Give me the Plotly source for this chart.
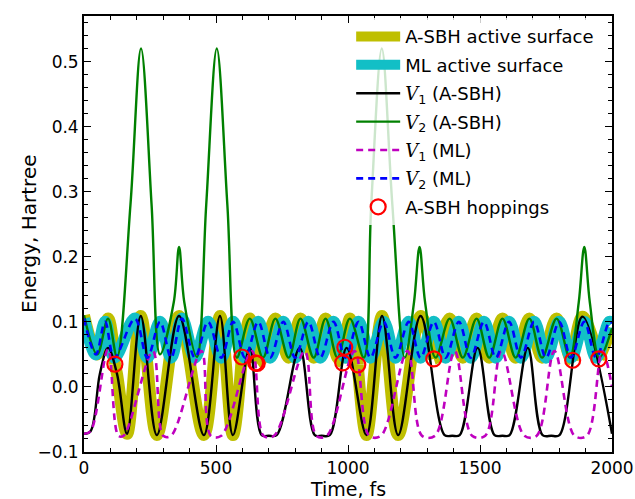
import plotly.graph_objects as go

# ---------------- data ----------------
# V1 (A-SBH), black solid
v1_t = [0, 25, 60, 91, 125, 163, 215, 276, 360, 454, 515, 564, 628, 673, 700, 730, 817, 874, 900, 931,
        995, 1070, 1129, 1190, 1275, 1366, 1395, 1423, 1491, 1555, 1585, 1612, 1681, 1737, 1770, 1801, 1888, 2000]
v1_e = [-0.072, -0.068, 0.02, 0.06, 0.02, -0.072, 0.109, -0.074, 0.109, -0.074, 0.109, -0.074, 0.06, -0.074, -0.075, -0.074,
        0.06, -0.074, -0.075, -0.074, 0.06, -0.074, 0.109, -0.074, 0.109, -0.074, -0.075, -0.074, 0.06, -0.074, -0.075, -0.074,
        0.06, -0.074, -0.075, -0.074, 0.108, -0.072]

# V2 (A-SBH), green solid
v2_t = [0, 50, 91, 125, 176, 216, 256, 288, 340, 360, 380, 428, 463, 503, 543, 579, 628, 678, 725, 775, 820, 870, 915, 960,
        1007, 1060, 1088, 1128, 1168, 1215, 1250, 1271, 1292, 1332, 1385, 1435, 1487, 1535, 1585, 1635, 1687, 1735, 1790,
        1840, 1874, 1895, 1916, 1952, 2000]
v2_e = [0.11, 0.05, 0.105, 0.046, 0.28, 0.52, 0.28, 0.05, 0.13, 0.215, 0.13, 0.046, 0.28, 0.52, 0.28, 0.045, 0.105,
        0.045, 0.105, 0.045, 0.105, 0.045, 0.105, 0.045, 0.105, 0.045, 0.28, 0.52, 0.28, 0.045, 0.13, 0.215, 0.13, 0.045,
        0.105, 0.045, 0.105, 0.045, 0.105, 0.045, 0.105, 0.045, 0.105, 0.045, 0.13, 0.215, 0.13, 0.045, 0.09]

# V1 (ML), magenta dashed
m1_t = [0, 25, 91, 130, 150, 261, 300, 330, 445, 480, 520, 636, 680, 720, 836, 880, 920, 1025, 1080, 1125,
        1225, 1280, 1330, 1404, 1470, 1520, 1581, 1668, 1715, 1782, 1858, 1905, 1963, 2000]
m1_e = [-0.072, -0.068, 0.058, -0.075, -0.075, 0.055, -0.075, -0.075, 0.055, -0.075, -0.075, 0.055, -0.075, -0.075,
        0.055, -0.075, -0.075, 0.055, -0.075, -0.075, 0.055, -0.075, -0.075, 0.055, -0.075, -0.075, 0.055, -0.075,
        -0.075, 0.055, -0.075, -0.075, 0.055, 0.0]

# V2 (ML), blue dashed
m2_t = [0, 45, 80, 115, 193, 240, 288, 330, 371, 420, 470, 520, 565, 610, 660, 705, 755, 800, 850, 895, 945, 990,
        1040, 1085, 1135, 1180, 1230, 1275, 1325, 1370, 1420, 1465, 1515, 1560, 1610, 1655, 1705, 1750, 1800, 1845,
        1895, 1940, 1990, 2000]
m2_e = [0.105, 0.05, 0.1, 0.045, 0.105, 0.045, 0.1, 0.045, 0.105, 0.045, 0.1, 0.045, 0.1, 0.045, 0.1, 0.045, 0.1,
        0.045, 0.1, 0.045, 0.1, 0.045, 0.1, 0.045, 0.1, 0.045, 0.1, 0.045, 0.1, 0.045, 0.1, 0.045, 0.1, 0.045, 0.1,
        0.045, 0.1, 0.045, 0.1, 0.045, 0.1, 0.045, 0.1, 0.098]

# A-SBH hoppings (red circles)
hop_t = [117, 598, 650, 656, 980, 988, 1037, 1325, 1851, 1950]
hop_e = [0.035, 0.046, 0.037, 0.036, 0.037, 0.061, 0.034, 0.043, 0.041, 0.043]
# active A-SBH surface after each hop (1 = V1, 2 = V2); initial surface
start_state = 2
hop_state = [1, 2, 1, 2, 1, 2, 1, 2, 1, 2]

T_MAX = 2000

# ---------------- build figure ----------------
fig = go.Figure()

YEL = "#bfbf00"
CYA = "#12bfc6"
VSYM = "<span style=\"font-family:'DejaVu Serif'\"><i>V</i></span>"

# active A-SBH surface as segments between hops
bounds_t = [0] + hop_t + [T_MAX]
states = [start_state] + hop_state
first = True
for i, st in enumerate(states):
    t0, t1 = bounds_t[i], bounds_t[i + 1]
    if t1 - t0 < 1:
        continue
    src_t, src_e = (v1_t, v1_e) if st == 1 else (v2_t, v2_e)
    xs, ys = [], []
    if i > 0:
        xs.append(hop_t[i - 1]); ys.append(hop_e[i - 1])
    for tt, ee in zip(src_t, src_e):
        if t0 < tt < t1 or (i == 0 and tt == 0) or (i == len(states) - 1 and tt == T_MAX):
            xs.append(tt); ys.append(ee)
    if i < len(hop_t):
        xs.append(hop_t[i]); ys.append(hop_e[i])
    fig.add_trace(go.Scatter(x=xs, y=ys, mode="lines", line=dict(color=YEL, width=12, shape="spline", smoothing=1.0),
                             name="A-SBH active surface", legendgroup="a", showlegend=first, hoverinfo="skip"))
    first = False

fig.add_trace(go.Scatter(x=m2_t, y=m2_e, mode="lines", line=dict(color=CYA, width=12, shape="spline", smoothing=1.0),
                         name="ML active surface", legendgroup="b"))
fig.add_trace(go.Scatter(x=v1_t, y=v1_e, mode="lines", line=dict(color="black", width=2.4, shape="spline", smoothing=1.0),
                         name=VSYM + "<sub>1</sub> (A-SBH)", legendgroup="c"))
fig.add_trace(go.Scatter(x=v2_t, y=v2_e, mode="lines", line=dict(color="#008000", width=2.4, shape="spline", smoothing=1.0),
                         name=VSYM + "<sub>2</sub> (A-SBH)", legendgroup="d"))
fig.add_trace(go.Scatter(x=m1_t, y=m1_e, mode="lines",
                         line=dict(color="#bf00bf", width=2.6, dash="7px,5px", shape="spline", smoothing=1.0),
                         name=VSYM + "<sub>1</sub> (ML)", legendgroup="e"))
fig.add_trace(go.Scatter(x=m2_t, y=m2_e, mode="lines",
                         line=dict(color="#0000ff", width=2.6, dash="7px,5px", shape="spline", smoothing=1.0),
                         name=VSYM + "<sub>2</sub> (ML)", legendgroup="f"))
fig.add_trace(go.Scatter(x=hop_t, y=hop_e, mode="markers",
                         marker=dict(symbol="circle-open", size=15, color="#ff0000", line=dict(width=2.2, color="#ff0000")),
                         name="A-SBH hoppings", legendgroup="g"))

axis_common = dict(showline=True, linecolor="black", linewidth=1.8, mirror="allticks", ticks="inside",
                   ticklen=7, tickwidth=1.2, tickcolor="black", showgrid=False, zeroline=False, automargin=False,
                   tickfont=dict(family="DejaVu Sans", size=17, color="black"))

fig.update_xaxes(range=[0, 2000], dtick=500, tick0=0,
                 minor=dict(ticks="inside", dtick=100, ticklen=4, tickcolor="black", tickwidth=1),
                 **axis_common)
fig.update_yaxes(range=[-0.1, 0.57], dtick=0.1, tick0=0, tickformat=".1f",
                 minor=dict(ticks="inside", dtick=0.02, ticklen=4, tickcolor="black", tickwidth=1),
                 **axis_common)

fig.update_layout(
    width=635, height=499,
    margin=dict(l=84, r=23, t=16, b=47),
    paper_bgcolor="white", plot_bgcolor="white",
    font=dict(family="DejaVu Sans", size=17, color="black"),
    showlegend=True,
    legend=dict(x=0.506, y=0.995, xanchor="left", yanchor="top", bgcolor="rgba(255,255,255,0.8)",
                font=dict(family="DejaVu Sans", size=18, color="black"), tracegroupgap=2, itemwidth=44),
    annotations=[
        dict(text="Time, fs", xref="paper", yref="paper", x=0.5, y=0, yanchor="middle", yshift=-37,
             showarrow=False, font=dict(family="DejaVu Sans", size=19, color="black")),
        dict(text="Energy, Hartree", xref="paper", yref="paper", x=0, y=0.5, xanchor="center", yanchor="middle",
             xshift=-55, textangle=-90, showarrow=False, font=dict(family="DejaVu Sans", size=20, color="black")),
    ],
)

fig.write_html("out.html", config={"displayModeBar": False},
               post_script="document.body.style.margin='0';document.body.style.overflow='hidden';")
